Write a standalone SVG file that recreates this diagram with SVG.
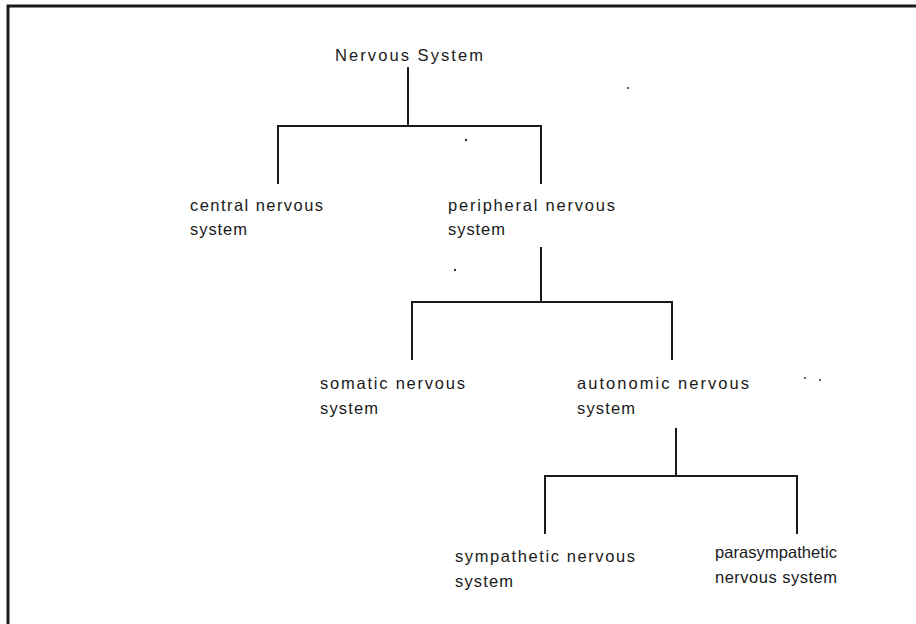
<svg xmlns="http://www.w3.org/2000/svg" width="916" height="624" viewBox="0 0 916 624">
<style>
.t{font-family:"Liberation Sans","DejaVu Sans",sans-serif;font-size:16.5px;fill:#1a1a1a}
.c{stroke:#1a1a1a;stroke-width:2;fill:none}
.frame{stroke:#1a1a1a;stroke-width:3;fill:none}
.speck{fill:#333}
</style>
<rect width="916" height="624" fill="#ffffff"/>
<path class="frame" d="M8,624 V6 H916"/>
<g id="connectors">
<path class="c" d="M408,67 V126 M278,184 V126 H541 V184"/>
<path class="c" d="M541,247 V302 M412,360 V302 H672 V360"/>
<path class="c" d="M676,428 V476 M545,534 V476 H797 V534"/>
</g>
<g id="n-nervous-system"><text class="t" x="335" y="61" textLength="148" lengthAdjust="spacing">Nervous System</text></g>
<g id="n-central"><text class="t" x="190" y="211" textLength="133" lengthAdjust="spacing">central nervous</text><text class="t" x="190" y="235" textLength="57" lengthAdjust="spacing">system</text></g>
<g id="n-peripheral"><text class="t" x="448" y="211" textLength="167" lengthAdjust="spacing">peripheral nervous</text><text class="t" x="448" y="235" textLength="57" lengthAdjust="spacing">system</text></g>
<g id="n-somatic"><text class="t" x="320" y="389" textLength="145" lengthAdjust="spacing">somatic nervous</text><text class="t" x="320" y="414" textLength="58" lengthAdjust="spacing">system</text></g>
<g id="n-autonomic"><text class="t" x="577" y="389" textLength="172" lengthAdjust="spacing">autonomic nervous</text><text class="t" x="577" y="414" textLength="58" lengthAdjust="spacing">system</text></g>
<g id="n-sympathetic"><text class="t" x="455" y="562" textLength="180" lengthAdjust="spacing">sympathetic nervous</text><text class="t" x="455" y="587" textLength="58" lengthAdjust="spacing">system</text></g>
<g id="n-parasympathetic"><text class="t" x="715" y="558" textLength="122" lengthAdjust="spacing">parasympathetic</text><text class="t" x="715" y="583" textLength="122" lengthAdjust="spacing">nervous system</text></g>
<g id="specks">
<circle class="speck" cx="466" cy="140" r="1.2"/>
<circle class="speck" cx="455" cy="270" r="1.2"/>
<circle class="speck" cx="628" cy="88" r="1"/>
<circle class="speck" cx="805" cy="378" r="1"/>
<circle class="speck" cx="820" cy="380" r="1"/>
</g>
</svg>
